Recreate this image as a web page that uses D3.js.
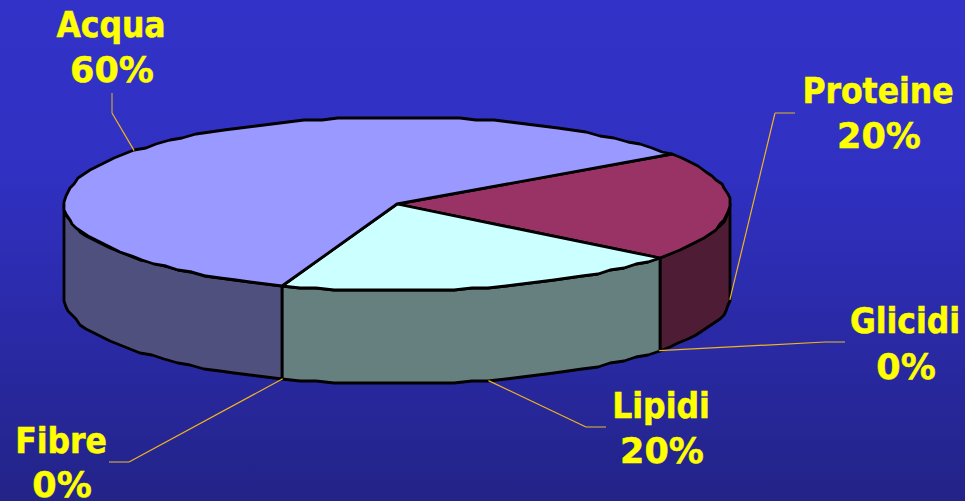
<!DOCTYPE html>
<html>
<head>
<meta charset="utf-8">
<script src="https://cdn.jsdelivr.net/npm/d3@7"></script>
<style>
  html, body { margin: 0; padding: 0; background: #2a2aa8; }
  svg { display: block; }
  .label { font-family: "DejaVu Sans", sans-serif; font-weight: bold; font-size: 35px; fill: #ffff00; text-anchor: middle; stroke: #ffff00; stroke-width: 0.5; }
  .label.name { font-family: "DejaVu Sans Condensed", "DejaVu Sans", sans-serif; font-stretch: condensed; }
</style>
</head>
<body>
<div class="chart"></div>
<script>
//Values
var categories = ["Proteine", "Glicidi", "Lipidi", "Fibre", "Acqua"];
var values = [20.1, 0, 20, 0, 59.9];

var svgWidth = 965;
var svgHeight = 501;

//Ellipse of the pie top and height of the cake
var cx = 397, cy = 204, rx = 333, ry = 87, depth = 93;

var topColors = { Proteine: "#993366", Lipidi: "#ccffff", Acqua: "#9999ff" };
var sideColors = { Proteine: "#4e1c34", Lipidi: "#668080", Acqua: "#50507f" };

//Where each label sits and where its leader line bends
var labelLayout = {
  Acqua:    { x: 111, y: 37,  gap: 45, elbow: [112, 113], end: [112, 93] },
  Proteine: { x: 878, y: 103, gap: 45, elbow: [775, 113], end: [795, 113] },
  Glicidi:  { x: 905, y: 333, gap: 46, elbow: [825, 342], end: [845, 342] },
  Lipidi:   { x: 661, y: 418, gap: 45, elbow: [586, 427], end: [606, 427] },
  Fibre:    { x: 61,  y: 453, gap: 44, elbow: [129, 462], end: [109, 462] }
};

var x = d3.scaleLinear().domain([-1, 1]).range([cx - rx, cx + rx]);
var y = d3.scaleLinear().domain([-1, 1]).range([cy - ry, cy + ry]);

var svg = d3.select(".chart").append("svg")
  .attr("width", svgWidth)
  .attr("height", svgHeight);

//Background gradient
var grad = svg.append("defs").append("linearGradient")
  .attr("id", "bg").attr("x1", 0).attr("y1", 0).attr("x2", 0).attr("y2", 1);
grad.append("stop").attr("offset", "0%").attr("stop-color", "#3232c8");
grad.append("stop").attr("offset", "35%").attr("stop-color", "#3030c2");
grad.append("stop").attr("offset", "100%").attr("stop-color", "#232388");

svg.append("rect")
  .attr("width", svgWidth)
  .attr("height", svgHeight)
  .attr("fill", "url(#bg)");

var startAngle = 55.7 * Math.PI / 180;
var pie = d3.pie().sort(null).startAngle(startAngle).endAngle(startAngle + 2 * Math.PI);
var slices = pie(values);
slices.forEach(function(d, i) { d.name = categories[i]; });

//Angle is clockwise from the top of the ellipse
function px(a) { return x(Math.sin(a)); }
function py(a) { return y(-Math.cos(a)); }

//The original outline is a coarse low-res curve, so snap the rim to a grid
function snap(v) { return Math.round(v / 2) * 2; }

function arcPoints(a0, a1, dz) {
  var steps = Math.max(1, Math.round((a1 - a0) / (3 * Math.PI / 180)));
  return d3.range(steps + 1).map(function(i) {
    var a = a0 + (a1 - a0) * i / steps;
    return [snap(px(a)), snap(py(a)) + dz];
  });
}

var line = d3.line();
var style = function(sel) {
  sel.attr("stroke", "#000").attr("stroke-width", 2.8).attr("stroke-linejoin", "round");
};

//Side walls, only the part of each slice facing us
var visible = slices.filter(function(d) { return d.value > 0; });
var front0 = Math.PI / 2, front1 = 3 * Math.PI / 2;
visible.forEach(function(d) {
  [0, 2 * Math.PI].forEach(function(shift) {
    var a0 = Math.max(d.startAngle - shift, front0);
    var a1 = Math.min(d.endAngle - shift, front1);
    if (a1 <= a0) return;
    var pts = arcPoints(a0, a1, 0).concat(arcPoints(a0, a1, depth).reverse());
    svg.append("path")
      .attr("d", line(pts) + "Z")
      .attr("fill", sideColors[d.name])
      .call(style);
  });
});

//Top faces
visible.forEach(function(d) {
  var pts = [[x(0), y(0)]].concat(arcPoints(d.startAngle, d.endAngle, 0));
  svg.append("path")
    .attr("d", line(pts) + "Z")
    .attr("fill", topColors[d.name])
    .call(style);
});

//Leader lines start at the middle of each slice, on the rim
slices.forEach(function(d) {
  var mid = (d.startAngle + d.endAngle) / 2;
  var facing = Math.cos(mid) <= 0.05;
  var start = [px(mid), py(mid) + (facing ? depth : 0)];
  var l = labelLayout[d.name];
  svg.append("path")
    .attr("d", line([start, l.elbow]))
    .attr("fill", "none")
    .attr("stroke", "#f0b41e")
    .attr("stroke-width", 1.2);
  svg.append("path")
    .attr("d", line([l.elbow, l.end]))
    .attr("fill", "none")
    .attr("stroke", "#b09450")
    .attr("stroke-width", 1.4);
});

//Labels
slices.forEach(function(d) {
  var l = labelLayout[d.name];
  svg.append("text").attr("class", "label name").attr("x", l.x).attr("y", l.y).text(d.name);
  svg.append("text").attr("class", "label").attr("x", l.x + 1).attr("y", l.y + l.gap).text(Math.round(d.value) + "%");
});
</script>
</body>
</html>
